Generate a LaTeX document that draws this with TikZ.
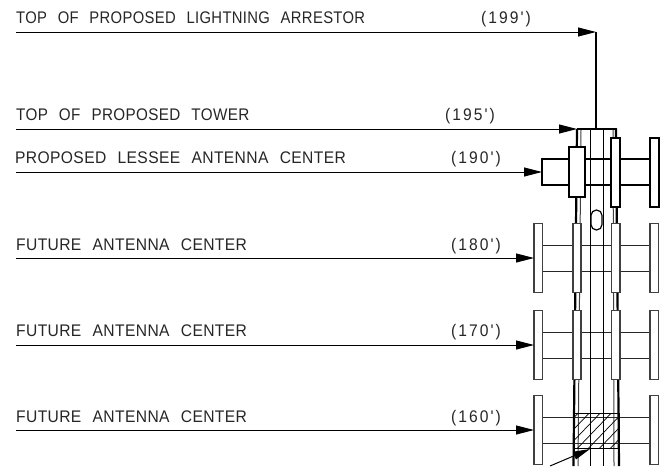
\documentclass[tikz,border=0pt]{standalone}
\usepackage{fontspec}
\setmainfont[LetterSpace=2.2,WordSpace=2.4,FakeStretch=0.93]{Liberation Sans}
\newfontfamily\numfont[LetterSpace=12,FakeStretch=0.93]{Liberation Sans}
\usetikzlibrary{arrows.meta}
\tikzset{
  x=1pt,y=-1pt,
  lbl/.style={anchor=base west,inner sep=0pt,font=\fontsize{16.8}{18}\selectfont,text=black!85},
  numlbl/.style={anchor=base west,inner sep=0pt,font=\numfont\fontsize{16.8}{18}\selectfont,text=black!85},
  leader/.style={line width=1pt,-{Triangle[length=18pt,width=9pt]}},
  panel/.style={draw=black!75,line width=1.1pt,fill=white},
  thickpanel/.style={draw=black,line width=2pt,fill=white},
  rail/.style={line width=1pt,draw=black!85},
  leg/.style={line width=2.2pt},
  thinleg/.style={line width=1pt,draw=black!75},
}
\newcommand{\outerpanels}[1]{%
  \draw[rail] (542,#1-13) -- (650,#1-13) (542,#1+13) -- (650,#1+13);
  \draw[panel] (534,#1-34.5) rectangle (542.5,#1+34.5);
  \draw[panel] (650,#1-34.5) rectangle (658.5,#1+34.5);
}
\newcommand{\innerpanels}[1]{%
  \draw[panel] (573,#1-34.5) rectangle (581,#1+34.5);
  \draw[panel] (611.5,#1-34.5) rectangle (620,#1+34.5);
}
\begin{document}
\begin{tikzpicture}
\useasboundingbox (0,0) rectangle (660,466);
% tower
\draw[leg] (577,129) -- (573.5,466) (616,129) -- (619,466);
\draw[thinleg] (581,129) -- (578,466) (613,129) -- (614,466);
% antennas
\outerpanels{258}\outerpanels{345}\outerpanels{430}
\innerpanels{258}\innerpanels{345}
% hatch
\begin{scope}
\clip (573,413) rectangle (619,448);
\foreach \i in {0,...,9}{\draw[line width=.7pt] (538+\i*11,455) -- (538+\i*11+48,405);}
\end{scope}
\draw[line width=1pt] (573,413) rectangle (619,448);
\draw[thinleg,draw=black] (590,129) -- (590,466) (603,129) -- (603,466);
% top of tower and mast
\draw[line width=1.8pt] (577,129) -- (616,129) -- (616,138);
\draw[line width=2.4pt] (596,32) -- (596,129);
% lessee antenna
\draw[line width=1.8pt] (568,159) -- (542,159) -- (542,185) -- (568,185);
\draw[line width=1.8pt] (585,159) -- (650,159) (585,185) -- (650,185);
\draw[thickpanel] (568.5,147) rectangle (585,197);
\draw[thickpanel] (611,138) rectangle (620,207);
\draw[thickpanel] (650,138) rectangle (658.5,207);
\draw[line width=1.2pt,rounded corners=5.4pt,fill=white] (591,210) rectangle (602,230);
% leaders
\coordinate (t1) at (16,32); \coordinate (h1) at (596,32);
\coordinate (t2) at (16,129); \coordinate (h2) at (577,129);
\coordinate (t3) at (16,172); \coordinate (h3) at (542,172);
\coordinate (t4) at (16,258); \coordinate (h4) at (534,258);
\coordinate (t5) at (16,345); \coordinate (h5) at (534,345);
\coordinate (t6) at (16,430); \coordinate (h6) at (534,430);
\foreach \n in {1,...,6}{\draw[leader] (t\n) -- (h\n);}
\coordinate (a0) at (550,466); \coordinate (a1) at (590,449);
\draw[line width=1pt,{Triangle[length=17pt,width=8pt]}-] (a1) -- (a0);
% labels
\node[lbl,xscale=0.948,transform shape] (l1) at (16,23) {TOP OF PROPOSED LIGHTNING ARRESTOR};
\node[numlbl] (n1) at (481,23) {(199')};
\node[lbl,xscale=0.975,transform shape] (l2) at (16,120.5) {TOP OF PROPOSED TOWER};
\node[numlbl] (n2) at (445,120.5) {(195')};
\node[lbl] (l3) at (15,163) {PROPOSED LESSEE ANTENNA CENTER};
\node[numlbl] (n3) at (451,163) {(190')};
\node[lbl] (l4) at (16,250) {FUTURE ANTENNA CENTER};
\node[numlbl] (n4) at (451,250) {(180')};
\node[lbl] (l5) at (16,336) {FUTURE ANTENNA CENTER};
\node[numlbl] (n5) at (451,336) {(170')};
\node[lbl] (l6) at (16,422) {FUTURE ANTENNA CENTER};
\node[numlbl] (n6) at (451,422) {(160')};
\end{tikzpicture}
\end{document}
